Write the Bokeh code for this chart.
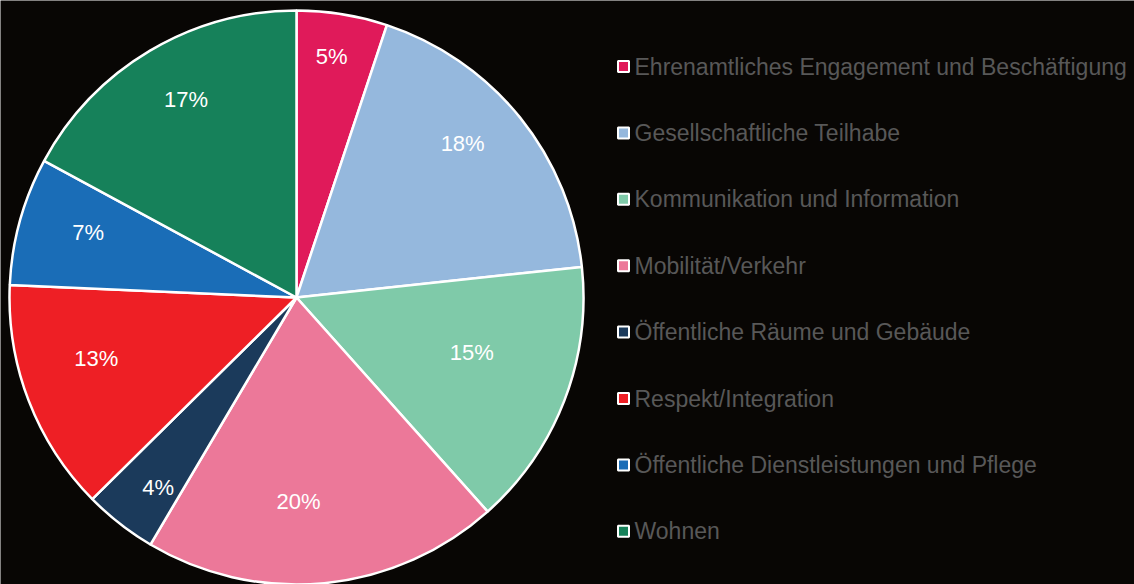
import numpy as np
from bokeh.plotting import figure
from bokeh.models import Range1d, ColumnDataSource
from bokeh.embed import file_html
from bokeh.resources import INLINE
from bokeh.core.properties import value

categories = [
    "Ehrenamtliches Engagement und Beschäftigung",
    "Gesellschaftliche Teilhabe",
    "Kommunikation und Information",
    "Mobilität/Verkehr",
    "Öffentliche Räume und Gebäude",
    "Respekt/Integration",
    "Öffentliche Dienstleistungen und Pflege",
    "Wohnen",
]
shares = [5.1, 18.2, 15.1, 20.1, 4.1, 13.1, 7.2, 17.1]
colors = ["#E01A5A", "#95B8DD", "#7FCAA9", "#EC7899", "#1B3A5B", "#EE1F25", "#1A6DB7", "#16815A"]

# label layout: distance from centre (fraction of radius) and angular nudge (degrees, clockwise)
label_r = [0.85, 0.79, 0.64, 0.71, 0.82, 0.73, 0.76, 0.79]
label_nudge = [-0.9, -4.0, -3.7, 5.0, -2.0, 4.0, 1.8, 1.6]

W, H = 1134, 584
BG = "#080604"
cx, cy, R = 296, 287, 287

vals = np.array(shares, dtype=float)
frac = vals / vals.sum()
cum = np.concatenate([[0], np.cumsum(frac)])
start = np.pi / 2 - 2 * np.pi * cum[:-1]
end = np.pi / 2 - 2 * np.pi * cum[1:]
mid = (start + end) / 2 - np.radians(label_nudge)
labels = [f"{round(f * 100):.0f}%" for f in frac]
lx = cx + np.array(label_r) * R * np.cos(mid)
ly = cy + np.array(label_r) * R * np.sin(mid)

src = ColumnDataSource(dict(start=start, end=end, color=colors, lx=lx, ly=ly, label=labels))

p = figure(width=W, height=H, x_range=Range1d(0, W), y_range=Range1d(0, H),
           output_backend="svg", toolbar_location=None, min_border=0)
p.axis.visible = False
p.grid.visible = False
p.outline_line_color = None
p.background_fill_color = BG
p.border_fill_color = BG

p.wedge(x=cx, y=cy, radius=R, start_angle="start", end_angle="end", direction="clock",
        fill_color="color", line_color="white", line_width=2.5, source=src)

p.text(x="lx", y="ly", text="label", source=src, text_color="white",
       text_font=value("Liberation Sans"), text_font_size="22px",
       text_align="center", text_baseline="middle")

n = len(categories)
leg_y = 518 - 66.4 * np.arange(n)
leg = ColumnDataSource(dict(x=[623] * n, tx=[634] * n, y=leg_y, color=colors, name=categories))
p.scatter(x="x", y="y", source=leg, marker="square", size=11, fill_color="color",
          line_color="white", line_width=2)
p.text(x="tx", y="y", text="name", source=leg, text_color="#585858",
       text_font=value("Liberation Sans"), text_font_size="23px",
       text_align="left", text_baseline="middle")

html = file_html(p, INLINE)
html = html.replace("<body", f'<body style="background:{BG};margin:0;"', 1)
open("out.html", "w").write(html)
